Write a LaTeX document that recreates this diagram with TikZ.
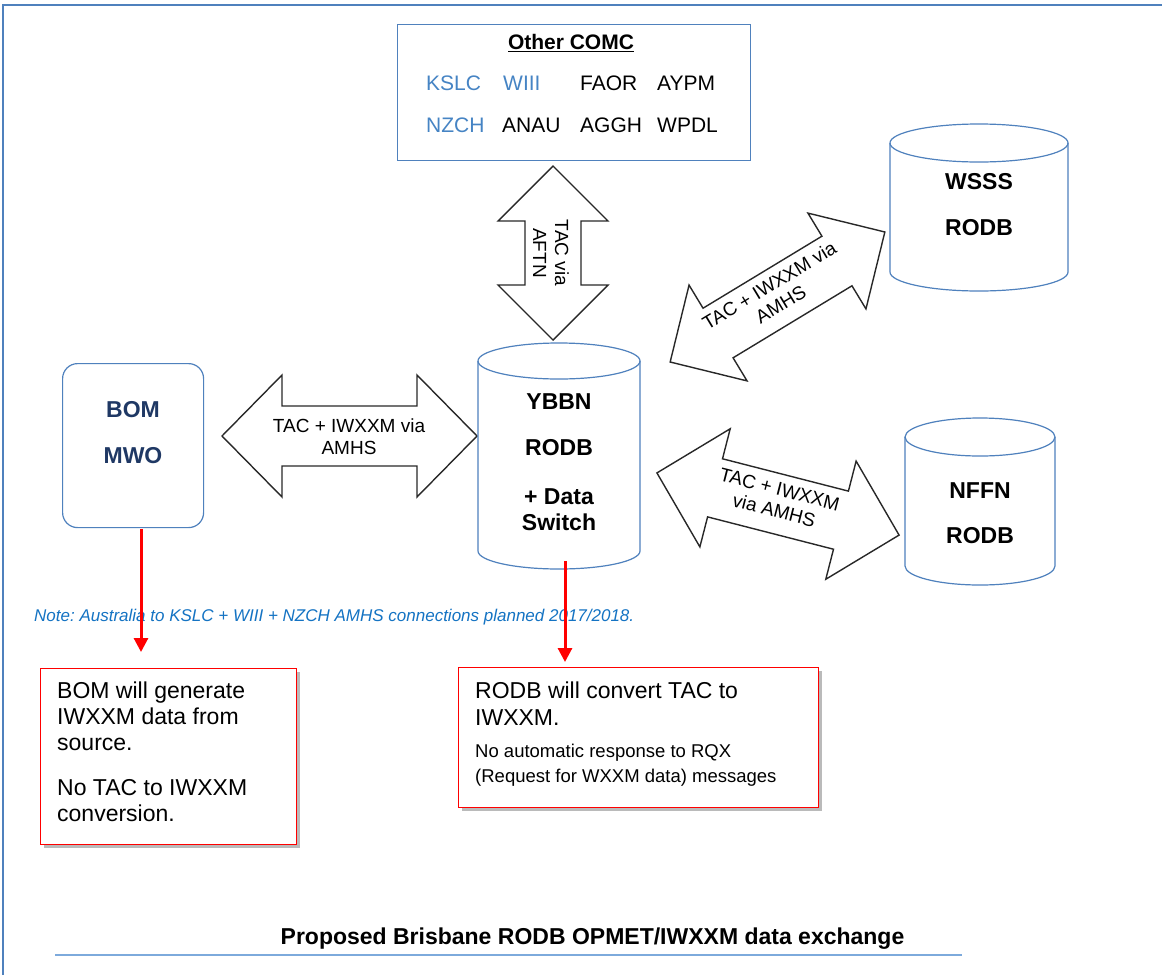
\documentclass[tikz,border=0pt]{standalone}
\usepackage{fontspec}
\setmainfont{Liberation Sans}
\usetikzlibrary{arrows.meta,shadows}
\frenchspacing
\definecolor{frameblue}{RGB}{79,129,189}
\definecolor{codeblue}{RGB}{70,132,196}
\definecolor{navyblue}{RGB}{31,56,100}
\definecolor{noteblue}{RGB}{20,115,195}
\definecolor{lineblue}{RGB}{125,170,220}
\definecolor{arrline}{RGB}{40,40,40}
\newcommand{\fsz}[2]{\fontsize{#1}{#2}\selectfont}
% cx, cy, angle, half length, head length, head half width, shaft half width
\newcommand{\blockarrow}[7]{%
  \begin{scope}[shift={(#1,#2)},rotate=#3]
    \draw[blockarr] (-#4,0) -- ({-#4+#5},#6) -- ({-#4+#5},#7) -- ({#4-#5},#7)
      -- ({#4-#5},#6) -- (#4,0) -- ({#4-#5},-#6) -- ({#4-#5},-#7)
      -- ({-#4+#5},-#7) -- ({-#4+#5},-#6) -- cycle;
  \end{scope}}
% cx, top ellipse cy, bottom cy, rx, ry
\newcommand{\cylinderdraw}[5]{%
  \draw[cylline,fill=white] ({#1-#4},#2) -- ({#1-#4},#3)
    arc[start angle=180,end angle=0,x radius=#4,y radius=#5] -- ({#1+#4},#2);
  \draw[cylline] (#1,#2) ellipse[x radius=#4,y radius=#5];}
\begin{document}
\begin{tikzpicture}[x=1pt,y=-1pt,
  blockarr/.style={draw=arrline,line width=1.4pt,fill=white,line join=miter},
  cylline/.style={draw=frameblue,line width=1.2pt},
  redbox/.style={draw=red,line width=1.2pt,fill=white,
    drop shadow={shadow xshift=3pt,shadow yshift=-3pt,fill=black!45,opacity=.6}},
  redarr/.style={draw=red,line width=3pt,-{Triangle[width=14pt,length=14pt]}},
  txt/.style={inner sep=0pt,text=black},
  codetxt/.style={inner sep=0pt,anchor=west,font=\fsz{21}{24}},
  lbl/.style={inner sep=0pt,align=center,font=\fsz{19}{22}},
  cyltxt/.style={inner sep=0pt,font=\fsz{23}{26}\bfseries},
  boxtxt/.style={inner sep=0pt,anchor=base west,font=\fsz{23}{26}},
  smalltxt/.style={inner sep=0pt,anchor=base west,font=\fsz{18.5}{22}}]
\useasboundingbox (0,0) rectangle (1162,975);
\fill[white] (0,0) rectangle (1162,975);
% outer frame (cut)
\draw[frameblue,line width=2pt] (3,975) -- (3,5) -- (1162,5);

% Other COMC box
\node[draw=frameblue,line width=1.2pt,minimum width=353pt,minimum height=136pt,
  anchor=north west,inner sep=0pt] (comc) at (397,24) {};
\node[txt,font=\fsz{21}{24}\bfseries] (comct) at (571,43) {\underline{Other COMC}};
\node[codetxt,text=codeblue] (kslc) at (426,83) {KSLC};
\node[codetxt,text=codeblue] (wiii) at (503,83) {WIII};
\node[codetxt] (faor) at (580,83) {FAOR};
\node[codetxt] (aypm) at (657,83) {AYPM};
\node[codetxt,text=codeblue] (nzch) at (426,125) {NZCH};
\node[codetxt] (anau) at (502,125) {ANAU};
\node[codetxt] (aggh) at (580,125) {AGGH};
\node[codetxt] (wpdl) at (657,125) {WPDL};

% block arrows
\blockarrow{553}{253}{90}{87}{55}{55}{28}
\node[lbl,rotate=-90] (aftn) at (551,253) {TAC via\\AFTN};
\blockarrow{349.5}{436}{0}{127.5}{60}{61}{30}
\node[lbl] (amhs1) at (349,437) {TAC + IWXXM via\\AMHS};
\blockarrow{777.5}{297}{31.2}{125.5}{56}{56}{29}
\node[lbl,rotate=31.2] (amhs2) at (775,295) {TAC + IWXXM via\\AMHS};
\blockarrow{778}{504}{-14.4}{125}{60}{61}{30}
\node[lbl,rotate=-14.4] (amhs3) at (777,500) {TAC + IWXXM\\via AMHS};

% cylinders
\cylinderdraw{559}{361}{551}{81}{18}
\node[cyltxt] (ybbn) at (559,402) {YBBN};
\node[cyltxt] (ybbnr) at (559,448) {RODB};
\node[cyltxt] (ybbnd) at (559,497) {+ Data};
\node[cyltxt] (ybbns) at (559,522) {Switch};
\cylinderdraw{979}{143}{272}{89}{19}
\node[cyltxt] (wsss) at (979,182) {WSSS};
\node[cyltxt] (wsssr) at (979,228) {RODB};
\cylinderdraw{980}{437}{566}{75}{19}
\node[cyltxt] (nffn) at (980,491) {NFFN};
\node[cyltxt] (nffnr) at (980,536) {RODB};

% BOM MWO
\node[draw=frameblue,line width=1.2pt,rounded corners=15pt,minimum width=141pt,
  minimum height=164pt,anchor=north west,inner sep=0pt] (bom) at (62,363) {};
\node[cyltxt,text=navyblue] (bomt) at (133,410) {BOM};
\node[cyltxt,text=navyblue] (mwot) at (133,456) {MWO};

% note
\node[inner sep=0pt,anchor=base west,font=\fsz{17}{20}\itshape,text=noteblue] (note)
  at (34,621) {Note: Australia to KSLC + WIII + NZCH AMHS connections planned 2017/2018.};

% red arrows
\coordinate (r1s) at (141,529);
\coordinate (r1e) at (141,652);
\coordinate (r2s) at (565,561);
\coordinate (r2e) at (565,662);
\draw[redarr] (r1s) -- (r1e);
\draw[redarr] (r2s) -- (r2e);

% red boxes
\node[redbox,minimum width=256pt,minimum height=176pt,anchor=north west,inner sep=0pt]
  (box1) at (40,668) {};
\node[boxtxt] (b1l1) at (57,698) {BOM will generate};
\node[boxtxt] (b1l2) at (57,724) {IWXXM data from};
\node[boxtxt] (b1l3) at (57,750) {source.};
\node[boxtxt] (b1l4) at (57,795) {No TAC to IWXXM};
\node[boxtxt] (b1l5) at (57,821) {conversion.};
\node[redbox,minimum width=360pt,minimum height=140pt,anchor=north west,inner sep=0pt]
  (box2) at (458,667) {};
\node[boxtxt] (b2l1) at (475,698) {RODB will convert TAC to};
\node[boxtxt] (b2l2) at (475,725) {IWXXM.};
\node[smalltxt] (b2l3) at (475,757) {No automatic response to RQX};
\node[smalltxt] (b2l4) at (475,782) {(Request for WXXM data) messages};

% title
\node[inner sep=0pt,anchor=base,font=\fsz{23}{26}\bfseries] (title)
  at (592.5,944) {Proposed Brisbane RODB OPMET/IWXXM data exchange};
\coordinate (ul1) at (55,955);
\coordinate (ul2) at (962,955);
\draw[lineblue,line width=2pt] (ul1) -- (ul2);
\end{tikzpicture}
\end{document}
